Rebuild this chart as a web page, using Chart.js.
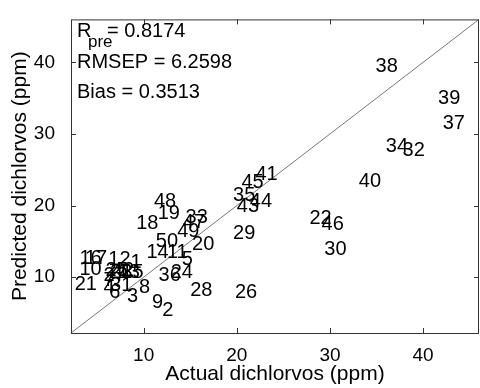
<!DOCTYPE html>
<html>
<head>
<meta charset="utf-8">
<script src="https://cdn.jsdelivr.net/npm/chart.js@4"></script>
<style>
  html, body { margin: 0; padding: 0; background: #fff; }
  #wrap { width: 480px; height: 388px; }
</style>
</head>
<body>
<div id="wrap"><canvas id="myChart"></canvas></div>
<script>
// sample numbers, actual vs predicted dichlorvos (ppm)
const sampleIds = ['1','2','3','4','5','6','7','8','9','10','11','12','13','14','15','16','17','18','19','20','21','22','23','24','25','26','27','28','29','30','31','32','33','34','35','36','37','38','39','40','41','42','43','44','45','46','47','48','49','50'];
const actual = [8.6, 12.0, 8.2, 5.7, 14.1, 6.3, 5.7, 9.5, 10.9, 3.1, 12.5, 6.2, 7.2, 10.3, 7.6, 3.1, 3.7, 9.2, 11.5, 15.2, 2.6, 27.8, 6.4, 12.9, 5.9, 19.8, 5.7, 15.0, 19.6, 29.4, 6.4, 37.8, 14.5, 36.0, 19.6, 11.6, 42.1, 34.9, 41.6, 33.1, 22.0, 6.6, 20.0, 21.4, 20.5, 29.1, 14.2, 11.1, 13.6, 11.3];
const predicted = [12.0, 5.4, 7.3, 8.5, 12.5, 7.9, 9.6, 8.6, 6.5, 11.1, 13.5, 12.5, 10.6, 13.4, 10.6, 12.6, 12.6, 17.5, 18.9, 14.6, 9.0, 18.2, 10.6, 10.6, 10.9, 7.9, 10.2, 8.1, 16.1, 13.9, 8.9, 27.7, 18.4, 28.2, 21.4, 10.2, 31.5, 39.4, 34.9, 23.3, 24.4, 10.9, 19.9, 20.6, 23.2, 17.3, 17.7, 20.5, 16.4, 15.0];
const axisRange = [2.2, 46];
const tickValues = [10, 20, 30, 40];
const statLines = [['R', 'pre', ' = 0.8174'], ['RMSEP = 6.2598'], ['Bias = 0.3513']];

const FONT = "'Liberation Sans', Arial, sans-serif";

const points = actual.map((a, i) => ({ x: a, y: predicted[i] }));

// draws the box, inward ticks, the id numbers and the stats text
const annotate = {
  id: 'annotate',
  afterDatasetsDraw(chart) {
    const { ctx, chartArea: a, scales: { x, y } } = chart;
    ctx.save();
    ctx.strokeStyle = '#333';
    ctx.lineWidth = 1;
    ctx.strokeRect(a.left + 0.5, a.top + 0.5, a.right - a.left - 1, a.bottom - a.top);
    ctx.beginPath();
    tickValues.forEach(v => {
      const px = Math.round(x.getPixelForValue(v)) + 0.5;
      ctx.moveTo(px, a.bottom); ctx.lineTo(px, a.bottom - 5);
      ctx.moveTo(px, a.top); ctx.lineTo(px, a.top + 5);
      const py = Math.round(y.getPixelForValue(v)) + 0.5;
      ctx.moveTo(a.left, py); ctx.lineTo(a.left + 5, py);
      ctx.moveTo(a.right, py); ctx.lineTo(a.right - 5, py);
    });
    ctx.stroke();

    ctx.fillStyle = '#000';
    ctx.font = '20px ' + FONT;
    ctx.textAlign = 'left';
    ctx.textBaseline = 'middle';
    points.forEach((p, i) => {
      ctx.fillText(sampleIds[i], x.getPixelForValue(p.x), y.getPixelForValue(p.y));
    });

    // stats box text
    const lx = a.left + 6;
    const ly = a.top + 12;
    const r = statLines[0];
    ctx.fillText(r[0], lx, ly);
    ctx.font = '17px ' + FONT;
    ctx.fillText(r[1], lx + 11, ly + 11);
    ctx.font = '20px ' + FONT;
    ctx.fillText(r[2], lx + 30 - ctx.measureText(' ').width, ly);
    ctx.fillText(statLines[1][0], lx, a.top + 43);
    ctx.fillText(statLines[2][0], lx, a.top + 73);
    ctx.restore();
  }
};

const axisOpts = (title) => ({
  type: 'linear',
  min: axisRange[0],
  max: axisRange[1],
  grid: { display: false },
  border: { display: false },
  afterBuildTicks: s => { s.ticks = tickValues.map(v => ({ value: v })); },
  ticks: { color: '#000', font: { family: FONT, size: 19 }, padding: 3 },
  title: { display: true, text: title, color: '#000', font: { family: FONT, size: 21 }, padding: { top: 0, bottom: 1 } }
});

const xOpts = axisOpts('Actual dichlorvos (ppm)');
xOpts.afterFit = s => { s.height = 55; };
const yOpts = axisOpts('Predicted dichlorvos (ppm)');
yOpts.ticks.padding = 8;
yOpts.title.padding = { top: 8, bottom: 0 };
yOpts.afterFit = s => { s.width = 71; };

new Chart(document.getElementById('myChart').getContext('2d'), {
  type: 'scatter',
  data: {
    datasets: [{
      label: 'samples',
      data: points,
      pointRadius: 0,
      showLine: false
    }, {
      label: 'y = x',
      data: [{ x: axisRange[0], y: axisRange[0] }, { x: axisRange[1], y: axisRange[1] }],
      showLine: true,
      pointRadius: 0,
      borderColor: '#777',
      borderWidth: 1
    }]
  },
  options: {
    responsive: true,
    maintainAspectRatio: false,
    animation: false,
    layout: { padding: { top: 15, right: 1, left: 0, bottom: 0 } },
    plugins: { legend: { display: false }, tooltip: { enabled: false } },
    scales: { x: xOpts, y: yOpts }
  },
  plugins: [annotate]
});
</script>
</body>
</html>
